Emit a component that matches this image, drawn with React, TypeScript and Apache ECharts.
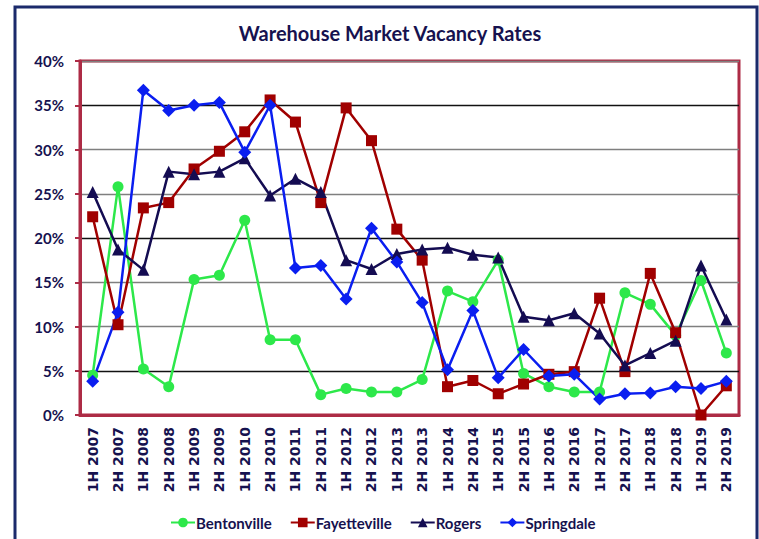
import React, { useEffect, useRef } from "react";
import * as echarts from "echarts";

const categories = [
  "1H 2007", "2H 2007", "1H 2008", "2H 2008", "1H 2009", "2H 2009", "1H 2010", "2H 2010",
  "1H 2011", "2H 2011", "1H 2012", "2H 2012", "1H 2013", "2H 2013", "1H 2014", "2H 2014",
  "1H 2015", "2H 2015", "1H 2016", "2H 2016", "1H 2017", "2H 2017", "1H 2018", "2H 2018",
  "1H 2019", "2H 2019",
];

const bentonville = [4.5, 25.8, 5.2, 3.2, 15.3, 15.8, 22.0, 8.5, 8.5, 2.3, 3.0, 2.6, 2.6, 4.0, 14.0, 12.8, 17.5, 4.7, 3.2, 2.6, 2.6, 13.8, 12.5, 9.0, 15.2, 7.0];
const fayetteville = [22.4, 10.2, 23.4, 24.0, 27.8, 29.8, 32.0, 35.6, 33.1, 24.0, 34.7, 31.0, 21.0, 17.5, 3.2, 3.9, 2.4, 3.5, 4.6, 4.9, 13.2, 4.9, 16.0, 9.3, 0.0, 3.3];
const rogers = [25.2, 18.7, 16.4, 27.5, 27.2, 27.5, 29.0, 24.8, 26.7, 25.2, 17.5, 16.5, 18.2, 18.7, 18.9, 18.1, 17.8, 11.1, 10.7, 11.5, 9.2, 5.6, 7.0, 8.4, 16.9, 10.8];
const springdale = [3.8, 11.6, 36.7, 34.4, 35.0, 35.3, 29.7, 35.0, 16.6, 16.9, 13.1, 21.1, 17.3, 12.7, 5.1, 11.8, 4.2, 7.4, 4.4, 4.6, 1.8, 2.4, 2.5, 3.2, 3.0, 3.8];

const seriesNames = ["Bentonville", "Fayetteville", "Rogers", "Springdale"];

const NAVY = "#16124f";
const MAROON = "#ad2b45";

export default function App() {
  const ref = useRef<HTMLDivElement>(null);
  useEffect(() => {
    if (!ref.current) return;
    const chart = echarts.init(ref.current, null, { renderer: "svg" });
    const mk = (name: string, data: number[], color: string, symbol: string, size: number) => ({
      name,
      type: "line",
      data,
      symbol,
      symbolSize: size,
      itemStyle: { color },
      lineStyle: { color, width: 2.5 },
    });
    chart.setOption({
      animation: false,
      backgroundColor: "#ffffff",
      title: {
        text: "Warehouse Market Vacancy Rates",
        left: 385,
        textAlign: "center",
        top: 18,
        textStyle: { fontFamily: "Lato", fontWeight: "bold", fontSize: 20, color: NAVY },
      },
      graphic: [
        {
          type: "rect",
          shape: { x: 15, y: 7, width: 742, height: 545 },
          style: { fill: "none", stroke: "#1b2a6b", lineWidth: 3 },
          z: 100,
        },
      ],
      legend: {
        data: seriesNames,
        bottom: 4,
        left: 165,
        itemGap: 18,
        itemWidth: 24,
        itemHeight: 12,
        textStyle: { fontFamily: "Lato", fontWeight: "bold", fontSize: 15, color: NAVY, padding: [0, 0, 0, -4] },
      },
      grid: {
        left: 80,
        right: 20,
        top: 61,
        bottom: 124,
        show: true,
        borderColor: MAROON,
        borderWidth: 3,
        backgroundColor: "transparent",
      },
      xAxis: {
        type: "category",
        data: categories,
        boundaryGap: true,
        axisLine: { show: true, lineStyle: { color: MAROON, width: 3 } },
        axisTick: { show: false },
        axisLabel: {
          rotate: 90,
          interval: 0,
          margin: 12,
          fontFamily: "DejaVu Sans",
          fontWeight: "bold",
          fontSize: 14,
          color: NAVY,
        },
      },
      yAxis: {
        type: "value",
        min: 0,
        max: 40,
        interval: 5,
        axisLine: { show: true, lineStyle: { color: MAROON, width: 3 } },
        axisTick: { show: true, length: 5, inside: false, lineStyle: { color: MAROON, width: 2 } },
        axisLabel: {
          formatter: "{value}%",
          margin: 16,
          fontFamily: "Lato",
          fontWeight: "bold",
          fontSize: 15,
          color: NAVY,
        },
        splitLine: {
          show: true,
          lineStyle: { color: ["#7f7f7f", "#111111", "#7f7f7f"], width: 1.3 },
        },
      },
      series: [
        mk("Bentonville", bentonville, "#2de84a", "circle", 11),
        mk("Fayetteville", fayetteville, "#a00000", "rect", 11),
        mk("Rogers", rogers, "#140c52", "triangle", 12),
        mk("Springdale", springdale, "#0a1ef0", "diamond", 13),
      ],
    });
    return () => chart.dispose();
  }, []);
  return (
    <div
      ref={ref}
      style={{ position: "fixed", left: 0, top: 0, width: 759, height: 539 }}
    />
  );
}
